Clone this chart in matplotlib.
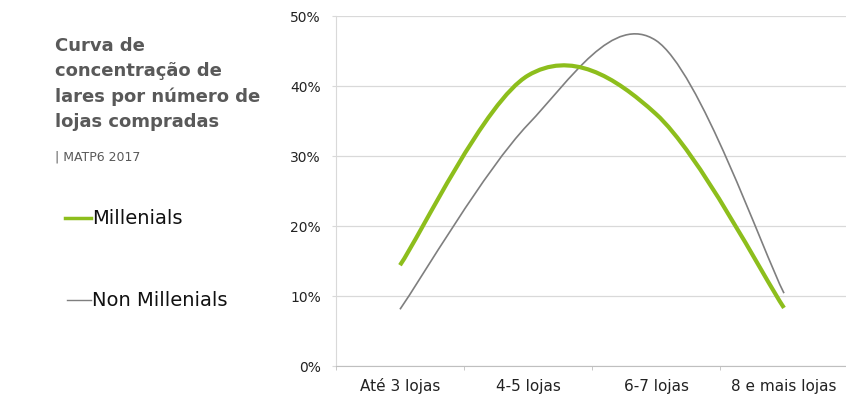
import numpy as np
import matplotlib
matplotlib.use("Agg")
import matplotlib.pyplot as plt
from matplotlib.path import Path
from matplotlib.patches import PathPatch

categorias = ["Até 3 lojas", "4-5 lojas", "6-7 lojas", "8 e mais lojas"]
millenials = [14.4, 41.5, 36.0, 8.3]
non_millenials = [8.1, 34.5, 46.5, 10.4]
yticks = [0, 10, 20, 30, 40, 50]

verde = "#8DBE1C"
cinza = "#7F7F7F"
plt.rcParams["font.family"] = ["DejaVu Sans"]


def curva_suave(xs, ys):
    # bezier path like Excel's smoothed line (catmull-rom, 1/6 tension)
    pts = np.column_stack([xs, ys]).astype(float)
    n = len(pts)
    verts = [pts[0]]
    codes = [Path.MOVETO]
    for i in range(n - 1):
        p0 = pts[max(i - 1, 0)]
        p1 = pts[i]
        p2 = pts[i + 1]
        p3 = pts[min(i + 2, n - 1)]
        c1 = p1 + (p2 - p0) / 6.0
        c2 = p2 - (p3 - p1) / 6.0
        verts += [c1, c2, p2]
        codes += [Path.CURVE4] * 3
    return Path(verts, codes)


fig = plt.figure(figsize=(8.46, 4.04), dpi=100)
ax = fig.add_axes([336 / 846, 1 - 366 / 404, 512 / 846, 350 / 404])

x = np.arange(len(categorias))
ax.add_patch(PathPatch(curva_suave(x, non_millenials), fill=False,
                       edgecolor=cinza, lw=1.2, capstyle="butt", zorder=3))
ax.add_patch(PathPatch(curva_suave(x, millenials), fill=False,
                       edgecolor=verde, lw=3.0, capstyle="butt", zorder=4))

ax.set_xlim(-0.5, len(categorias) - 0.5)
ax.set_ylim(0, 50)
ax.set_yticks(yticks)
ax.set_yticklabels([f"{v}%" for v in yticks], fontsize=10, color="#222222")
ax.set_xticks(x)
ax.set_xticklabels(categorias, fontsize=11, color="#222222")
ax.set_xticks(np.arange(len(categorias) + 1) - 0.5, minor=True)
ax.tick_params(axis="x", which="major", length=0, pad=9)
ax.tick_params(axis="x", which="minor", length=3, color="#BFBFBF")
ax.tick_params(axis="y", length=3, color="#D9D9D9", pad=8)
ax.grid(axis="y", color="#D9D9D9", lw=0.9)
ax.set_axisbelow(True)
for s in ["top", "right"]:
    ax.spines[s].set_visible(False)
ax.spines["left"].set_color("#D9D9D9")
ax.spines["bottom"].set_color("#BFBFBF")

fig.text(55 / 846, 1 - 37 / 404,
         "Curva de\nconcentração de\nlares por número de\nlojas compradas",
         fontsize=13, fontweight="bold", color="#595959", va="top", ha="left",
         linespacing=1.5)
fig.text(55 / 846, 1 - 157 / 404, "| MATP6 2017", fontsize=9,
         color="#595959", va="center", ha="left")

fig.add_artist(plt.Line2D([65 / 846, 91 / 846], [1 - 218 / 404] * 2,
                          color=verde, lw=2.5))
fig.text(92 / 846, 1 - 218 / 404, "Millenials", fontsize=14, color="#111111",
         va="center", ha="left")
fig.add_artist(plt.Line2D([67 / 846, 91 / 846], [1 - 300 / 404] * 2,
                          color=cinza, lw=1.0))
fig.text(92 / 846, 1 - 300 / 404, "Non Millenials", fontsize=14,
         color="#111111", va="center", ha="left")

fig.savefig("out.png", dpi=100)
